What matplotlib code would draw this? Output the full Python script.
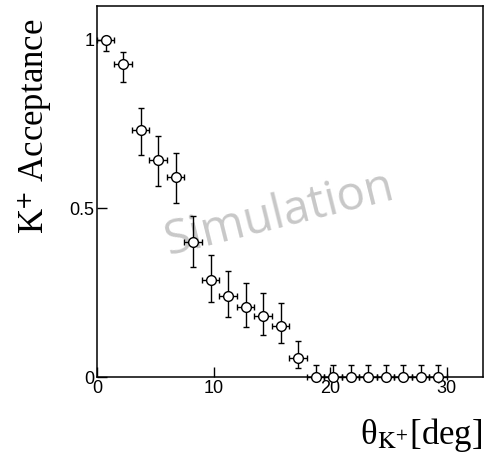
import numpy as np
import matplotlib
matplotlib.use("Agg")
import matplotlib.pyplot as plt

plt.rcParams['mathtext.fontset'] = 'stix'

# bin centres [deg] and acceptance values
theta = [0.75, 2.25, 3.75, 5.25, 6.75, 8.25, 9.75, 11.25, 12.75, 14.25,
         15.75, 17.25, 18.75, 20.25, 21.75, 23.25, 24.75, 26.25, 27.75, 29.25]
acc = [1.0, 0.929, 0.733, 0.644, 0.593, 0.40, 0.288, 0.24, 0.208, 0.181,
       0.151, 0.056, 0.0, 0.0, 0.0, 0.0, 0.0, 0.0, 0.0, 0.0]
err_lo = [0.033, 0.053, 0.074, 0.077, 0.077, 0.074, 0.065, 0.062, 0.059, 0.056,
          0.050, 0.030, 0.0, 0.0, 0.0, 0.0, 0.0, 0.0, 0.0, 0.0]
err_hi = [0.009, 0.036, 0.065, 0.071, 0.071, 0.077, 0.074, 0.074, 0.071, 0.068,
          0.068, 0.050, 0.036, 0.036, 0.036, 0.036, 0.036, 0.036, 0.036, 0.036]
x_half = [0.75] * len(theta)

xticks = [0, 10, 20, 30]
yticks = [0, 0.5, 1]
ytick_labels = ['0', '0.5', '1']

fig = plt.figure(figsize=(4.85, 4.63), dpi=100)
ax = fig.add_axes([0.2, 0.1857, 0.796, 0.801])

markers, caps, bars = ax.errorbar(theta, acc, yerr=[err_lo, err_hi], xerr=x_half, fmt='o',
                                  color='black', mfc='white', mec='black', ms=7, mew=1,
                                  elinewidth=1, capsize=2.5, capthick=1, zorder=3)
markers.set_clip_on(False)
for c in caps:
    c.set_clip_on(False)
for b in bars:
    b.set_clip_on(False)

# watermark
ax.text(0.472, 0.44, 'Simulation', transform=ax.transAxes, rotation=14,
        fontsize=34, color='#c8c8c8', family='Open Sans',
        ha='center', va='center', zorder=1)

ax.set_xlim(0, 33.1)
ax.set_ylim(0, 1.1)
ax.set_xticks(xticks)
ax.set_xticklabels([str(t) for t in xticks])
ax.set_yticks(yticks)
ax.set_yticklabels(ytick_labels)
ax.tick_params(direction='in', length=7, width=1, labelsize=13, pad=2)
for lab in ax.get_xticklabels() + ax.get_yticklabels():
    lab.set_family('Liberation Sans')
for sp in ax.spines.values():
    sp.set_linewidth(1.1)

fig.text(0.072, 0.96, r'K$^{+}$ Acceptance', rotation=90, ha='center', va='top',
         fontsize=25, family='Liberation Serif')
fig.text(0.995, 0.04, r'θ$_{\mathrm{K}^{+}}$[deg]', ha='right', va='baseline',
         fontsize=25, family='Liberation Serif')

fig.savefig('out.png', dpi=100)
